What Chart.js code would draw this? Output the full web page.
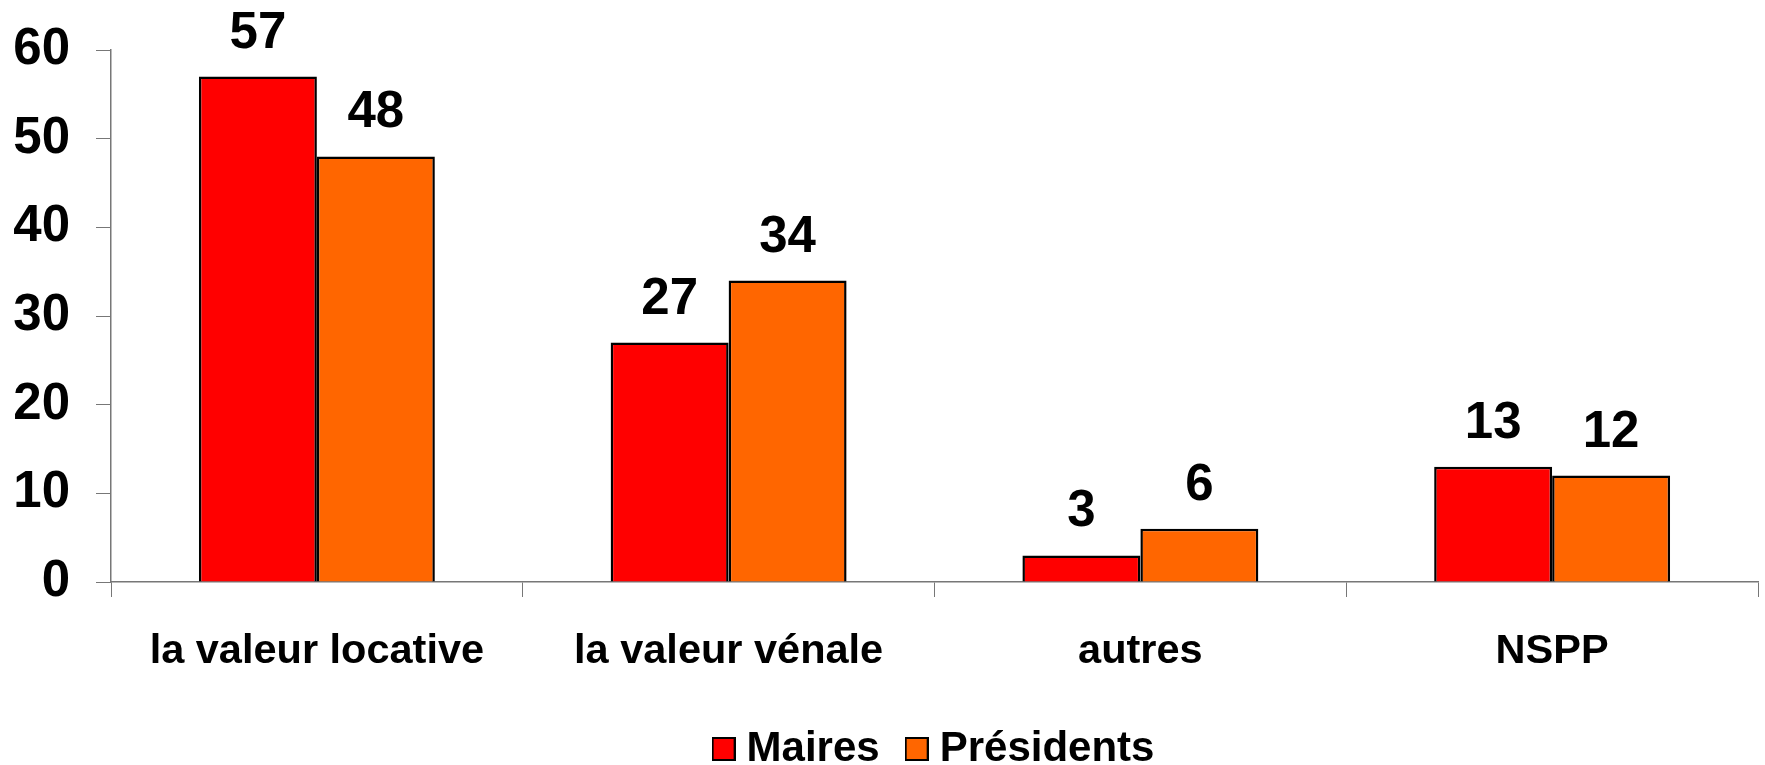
<!DOCTYPE html>
<html>
<head>
<meta charset="utf-8">
<script src="https://cdn.jsdelivr.net/npm/chart.js@4/dist/chart.umd.min.js"></script>
<style>
  html, body { margin: 0; padding: 0; background: #fff; }
  #wrap { width: 1765px; height: 765px; }
</style>
</head>
<body>
<div id="wrap"><canvas id="myChart"></canvas></div>
<script>
// data
var categories = ['la valeur locative', 'la valeur vénale', 'autres', 'NSPP'];
var maires = [57, 27, 3, 13];
var presidents = [48, 34, 6, 12];
var yTicks = [0, 10, 20, 30, 40, 50, 60];

var FONT = "'Liberation Sans', Arial, sans-serif";
var colors = ['#FF0000', '#FF6600'];

// little square swatches for the legend (text sits closer than the default box)
function makeSwatch(color) {
  var c = document.createElement('canvas');
  c.width = 24;
  c.height = 24;
  var g = c.getContext('2d');
  g.fillStyle = '#000';
  g.fillRect(0, 0, 24, 24);
  g.fillStyle = color;
  g.fillRect(2, 2, 20, 20);
  return c;
}
var swatches = colors.map(makeSwatch);

// write the value over each bar
var valueLabels = {
  id: 'valueLabels',
  afterDatasetsDraw: function(chart) {
    var ctx = chart.ctx;
    ctx.save();
    ctx.font = 'bold 51px ' + FONT;
    ctx.fillStyle = '#000';
    ctx.textAlign = 'center';
    ctx.textBaseline = 'alphabetic';
    chart.data.datasets.forEach(function(ds, i) {
      chart.getDatasetMeta(i).data.forEach(function(bar, j) {
        ctx.fillText(ds.data[j], bar.x, bar.y - 29);
      });
    });
    ctx.restore();
  }
};

// centre the legend under the plot area rather than the whole canvas
var legendShift = {
  id: 'legendShift',
  afterLayout: function(chart) {
    chart.legend.left = 118;
  }
};

var ctx = document.getElementById('myChart').getContext('2d');
var myChart = new Chart(ctx, {
  type: 'bar',
  data: {
    labels: categories,
    datasets: [{
      label: 'Maires',
      data: maires,
      backgroundColor: colors[0],
      borderColor: '#000',
      borderWidth: 2.5
    }, {
      label: 'Présidents',
      data: presidents,
      backgroundColor: colors[1],
      borderColor: '#000',
      borderWidth: 2.5
    }]
  },
  options: {
    responsive: true,
    maintainAspectRatio: false,
    animation: false,
    events: [],
    layout: { padding: { top: 50, right: 7, left: 0, bottom: -15 } },
    datasets: {
      bar: { categoryPercentage: 0.573, barPercentage: 1 }
    },
    plugins: {
      tooltip: { enabled: false },
      legend: {
        position: 'bottom',
        labels: {
          usePointStyle: true,
          pointStyleWidth: 4,
          boxHeight: 24,
          padding: 35,
          color: '#000',
          font: { family: FONT, size: 42, weight: 'bold' },
          generateLabels: function(chart) {
            var items = Chart.defaults.plugins.legend.labels.generateLabels(chart);
            items.forEach(function(item, i) { item.pointStyle = swatches[i]; });
            return items;
          }
        }
      }
    },
    scales: {
      x: {
        afterFit: function(scale) { scale.height = 111; },
        grid: {
          offset: true,
          drawOnChartArea: false,
          tickLength: 15,
          color: '#777'
        },
        border: { color: '#777', width: 1.5 },
        ticks: {
          padding: 30,
          color: '#000',
          font: { family: FONT, size: 41.5, weight: 'bold' }
        }
      },
      y: {
        min: 0,
        max: 60,
        afterFit: function(scale) {
          scale.width = 111;
          scale.paddingTop = 0;
          scale.paddingBottom = 0;
        },
        afterBuildTicks: function(scale) {
          scale.ticks = yTicks.map(function(v) { return { value: v }; });
        },
        grid: {
          drawOnChartArea: false,
          tickLength: 15,
          color: '#777'
        },
        border: { color: '#777', width: 1.5 },
        ticks: {
          padding: 26,
          color: '#000',
          font: { family: FONT, size: 51, weight: 'bold' }
        }
      }
    }
  },
  plugins: [valueLabels, legendShift]
});
</script>
</body>
</html>
